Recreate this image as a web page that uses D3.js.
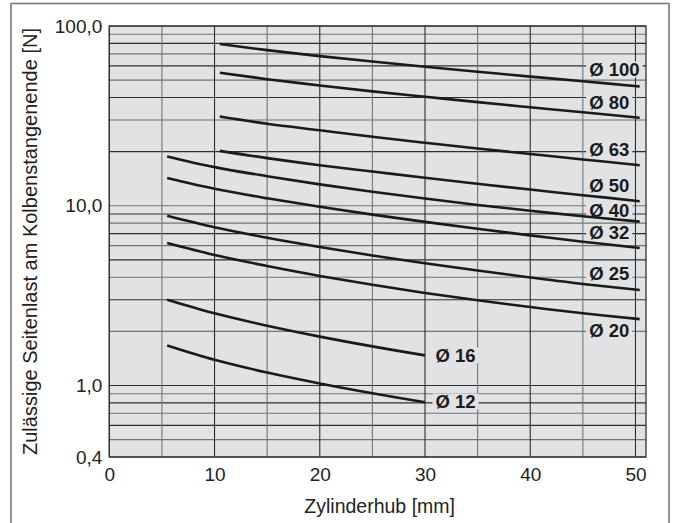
<!DOCTYPE html>
<html><head><meta charset="utf-8">
<script src="https://cdn.jsdelivr.net/npm/d3@7"></script>
<style>body{margin:0;background:#fff}svg{display:block}</style>
</head><body><svg id="c" width="675" height="523"></svg>
<script>
// ---- data ----
const strokes = [5.5, 10, 15, 20, 25, 30, 35, 40, 45, 50.4];
const strokesLong = [10.5, 15, 20, 25, 30, 35, 40, 45, 50.4];
const strokesShort = [5.5, 10, 15, 20, 25, 30];
const d100 = [79.4, 73.4, 68.0, 63.4, 59.3, 55.7, 52.3, 49.3, 46.1];
const d80  = [55.0, 50.6, 46.7, 43.3, 40.4, 37.7, 35.3, 33.1, 30.9];
const d63  = [31.35, 28.6, 26.3, 24.2, 22.4, 20.8, 19.4, 18.1, 16.8];
const d50  = [20.2, 18.4, 16.8, 15.5, 14.3, 13.25, 12.3, 11.45, 10.6];
const d40  = [18.8, 16.4, 14.6, 13.15, 11.96, 10.96, 10.1, 9.38, 8.74, 8.16];
const d32  = [14.26, 12.43, 11.0, 9.86, 8.92, 8.13, 7.44, 6.84, 6.31, 5.82];
const d25  = [8.8, 7.59, 6.64, 5.9, 5.29, 4.79, 4.36, 3.99, 3.67, 3.40];
const d20  = [6.2, 5.32, 4.62, 4.07, 3.63, 3.27, 2.98, 2.73, 2.52, 2.34];
const d16  = [3.0, 2.52, 2.15, 1.87, 1.65, 1.47];
const d12  = [1.67, 1.39, 1.18, 1.026, 0.905, 0.807];
const seriesNames = ["Ø 100","Ø 80","Ø 63","Ø 50","Ø 40","Ø 32","Ø 25","Ø 20","Ø 16","Ø 12"];
const labelValues = [57.3, 37.8, 20.5, 13.0, 9.39, 7.13, 4.2, 2.03, 1.47, 0.815];
const xTicks = [0, 10, 20, 30, 40, 50];
const xTickLabels = ["0","10","20","30","40","50"];
const yTicks = [100, 10, 1, 0.4];
const yTickLabels = ["100,0","10,0","1,0","0,4"];
const xTitle = "Zylinderhub [mm]";
const yTitle = "Zulässige Seitenlast am Kolbenstangenende [N]";

const series = [
  {name: seriesNames[0], xs: strokesLong, ys: d100, lx: 45.6, lv: labelValues[0]},
  {name: seriesNames[1], xs: strokesLong, ys: d80, lx: 45.6, lv: labelValues[1]},
  {name: seriesNames[2], xs: strokesLong, ys: d63, lx: 45.6, lv: labelValues[2]},
  {name: seriesNames[3], xs: strokesLong, ys: d50, lx: 45.6, lv: labelValues[3]},
  {name: seriesNames[4], xs: strokes, ys: d40, lx: 45.6, lv: labelValues[4]},
  {name: seriesNames[5], xs: strokes, ys: d32, lx: 45.6, lv: labelValues[5]},
  {name: seriesNames[6], xs: strokes, ys: d25, lx: 45.6, lv: labelValues[6]},
  {name: seriesNames[7], xs: strokes, ys: d20, lx: 45.6, lv: labelValues[7]},
  {name: seriesNames[8], xs: strokesShort, ys: d16, lx: 31.0, lv: labelValues[8]},
  {name: seriesNames[9], xs: strokesShort, ys: d12, lx: 31.0, lv: labelValues[9]}
];

// ---- layout ----
const L = 109.3, R = 646, T = 26, B = 457;
const BG = "#e1e2e3";
const svg = d3.select("#c");
const x = d3.scaleLinear().domain([0, 51]).range([L, R]);
const y = d3.scaleLog().domain([0.4, 100]).range([B, T]);
const fontFam = "'Liberation Sans', Arial, Helvetica, sans-serif";

// outer frame
svg.append("rect").attr("x", 11).attr("y", 3.5).attr("width", 658).attr("height", 540)
  .attr("fill", "none").attr("stroke", "#7a7a7a").attr("stroke-width", 1.6);

// plot background
svg.append("rect").attr("x", L).attr("y", T).attr("width", R - L).attr("height", B - T)
  .attr("fill", BG);

// grid
const hGrid = [];
[0.1, 1, 10].forEach(dec => { for (let k = 1; k <= 9; k++) { const v = +(k * dec).toFixed(3); if (v >= 0.4) hGrid.push(v); } });
hGrid.push(100);
const vGrid = d3.range(0, 51, 5);
const g = svg.append("g");
g.selectAll("line.h").data(hGrid).join("line")
  .attr("x1", L).attr("x2", R).attr("y1", d => y(d)).attr("y2", d => y(d))
  .attr("stroke", (d, i) => i % 2 ? "#747474" : "#2e2e2e").attr("stroke-width", 1.1);
g.selectAll("line.v").data(vGrid).join("line")
  .attr("y1", T).attr("y2", B).attr("x1", d => x(d)).attr("x2", d => x(d))
  .attr("stroke", (d, i) => i % 2 ? "#747474" : "#2e2e2e").attr("stroke-width", 1.1);
svg.append("rect").attr("x", L).attr("y", T).attr("width", R - L).attr("height", B - T)
  .attr("fill", "none").attr("stroke", "#333").attr("stroke-width", 1.3);

// label boxes (hide grid under labels)
const boxG = svg.append("g");
// curves
const line = d3.line().x(d => x(d[0])).y(d => y(d[1])).curve(d3.curveCatmullRom.alpha(0.5));
svg.append("g").selectAll("path").data(series).join("path")
  .attr("d", s => line(s.xs.map((xv, i) => [xv, s.ys[i]])))
  .attr("fill", "none").attr("stroke", "#1a1a1a").attr("stroke-width", 2.6).attr("stroke-linecap", "butt");

// labels
const lab = svg.append("g").attr("font-family", fontFam)
  .attr("font-weight", "bold").attr("font-size", 18.5).attr("fill", "#1a1a1a");
series.forEach(s => {
  const t = lab.append("text").attr("x", x(s.lx)).attr("y", y(s.lv)).attr("dy", "0.36em").text(s.name);
  const bb = t.node().getBBox();
  boxG.append("rect").attr("x", bb.x - 3).attr("y", y(s.lv) - 8).attr("width", bb.width + 6).attr("height", 16)
    .attr("fill", BG);
});

// axes
const ax = svg.append("g").attr("transform", `translate(0,${B})`)
  .call(d3.axisBottom(x).tickValues(xTicks).tickFormat((d, i) => xTickLabels[i]).tickSize(0).tickPadding(11));
ax.select(".domain").remove();
ax.selectAll("text").attr("font-family", fontFam).attr("font-size", 19).attr("fill", "#222");

const ay = svg.append("g").attr("transform", `translate(${L},0)`)
  .call(d3.axisLeft(y).tickValues(yTicks).tickFormat((d, i) => yTickLabels[i]).tickSize(0).tickPadding(7));
ay.select(".domain").remove();
ay.selectAll("text").attr("font-family", fontFam).attr("font-size", 19).attr("fill", "#222");

svg.append("text").attr("x", (L + R) / 2 + 2).attr("y", 513).attr("text-anchor", "middle")
  .attr("font-family", fontFam).attr("font-size", 19.5).attr("fill", "#222").text(xTitle);
svg.append("text").attr("transform", `translate(37,${(28 + 455) / 2}) rotate(-90)`).attr("text-anchor", "middle")
  .attr("font-family", fontFam).attr("font-size", 20).attr("fill", "#222").text(yTitle);
</script></body></html>
